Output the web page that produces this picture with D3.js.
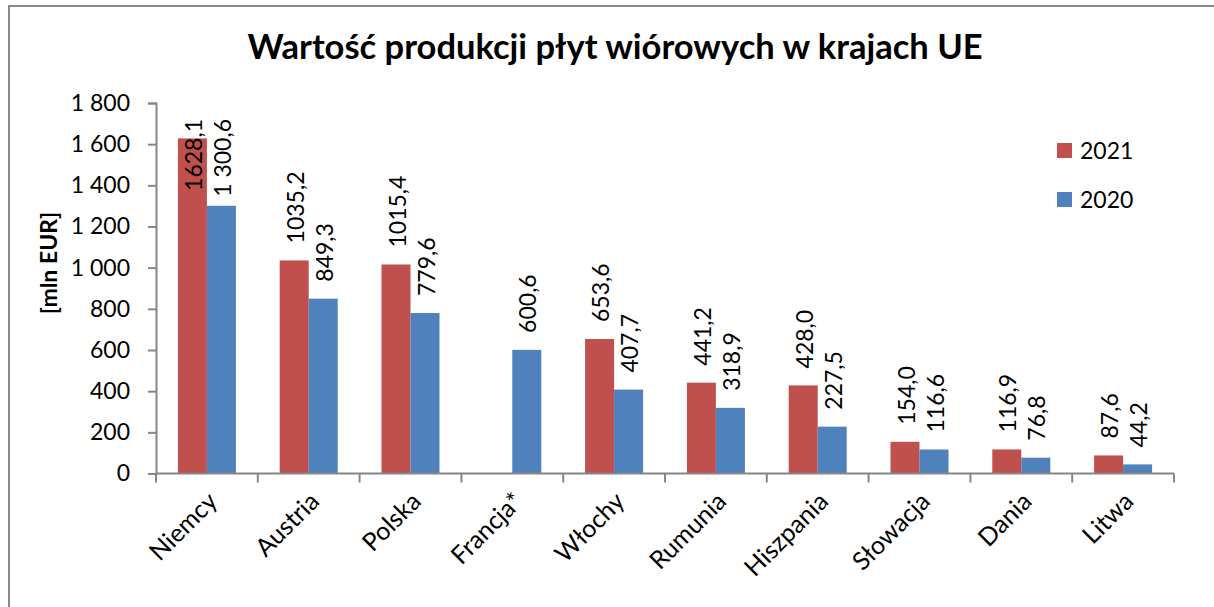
<!DOCTYPE html>
<html><head><meta charset="utf-8">
<script src="https://cdn.jsdelivr.net/npm/d3@7"></script>
<style>html,body{margin:0;background:#fff;overflow:hidden}svg{display:block}</style>
</head><body>
<svg id="chart" width="1214" height="607"></svg>
<script>
const categories = ["Niemcy","Austria","Polska","Francja*","Włochy","Rumunia","Hiszpania","Słowacja","Dania","Litwa"];
const series = ["2021","2020"];
const values2021 = [1628.1,1035.2,1015.4,null,653.6,441.2,428.0,154.0,116.9,87.6];
const values2020 = [1300.6,849.3,779.6,600.6,407.7,318.9,227.5,116.6,76.8,44.2];
const labels2021 = ["1628,1","1035,2","1015,4",null,"653,6","441,2","428,0","154,0","116,9","87,6"];
const labels2020 = ["1 300,6","849,3","779,6","600,6","407,7","318,9","227,5","116,6","76,8","44,2"];
const yTicks = [0,200,400,600,800,1000,1200,1400,1600,1800];
const yTickLabels = ["0","200","400","600","800","1 000","1 200","1 400","1 600","1 800"];
const colors = {"2021":"#C0504D","2020":"#4F81BD"};
const title = "Wartość produkcji płyt wiórowych w krajach UE";
const yTitle = "[mln EUR]";

const font = "Lato, 'Open Sans', sans-serif";
const svg = d3.select("#chart");
svg.append("path").attr("d","M9,607V6H1214").attr("fill","none")
  .attr("stroke","#8a8a8a").attr("stroke-width",2);

const x0 = d3.scaleBand().domain(categories).range([156,1174]);
const x1 = d3.scaleBand().domain(series).range([0,x0.bandwidth()]).paddingOuter(0.755);
const y = d3.scaleLinear().domain([0,1800]).range([473.5,103]);

const axisColor = "#868686";
// y axis
const yAxis = svg.append("g").attr("transform","translate(156,0)")
  .call(d3.axisLeft(y).tickValues(yTicks).tickFormat((d,i)=>yTickLabels[i]).tickSizeOuter(0).tickSize(8).tickPadding(18));
yAxis.select(".domain").attr("stroke",axisColor).attr("stroke-width",2);
yAxis.selectAll(".tick line").attr("stroke",axisColor).attr("stroke-width",2);
yAxis.selectAll(".tick text").attr("font-family",font).attr("font-size",23).attr("fill","#000");

// bars
const data = categories.map((c,i)=>({c, v:[{s:"2021",v:values2021[i],l:labels2021[i]},{s:"2020",v:values2020[i],l:labels2020[i]}]}));
const g = svg.append("g");
const grp = g.selectAll("g.cat").data(data).join("g").attr("transform",d=>`translate(${x0(d.c)},0)`);
grp.selectAll("rect").data(d=>d.v.filter(e=>e.v!=null)).join("rect")
  .attr("x",e=>x1(e.s)).attr("width",x1.bandwidth())
  .attr("y",e=>y(e.v)).attr("height",e=>y(0)-y(e.v)).attr("fill",e=>colors[e.s]);

// labels
grp.selectAll("text.lbl").data(d=>d.v.filter(e=>e.v!=null)).join("text").attr("class","lbl")
  .attr("font-family",font).attr("font-size",23).attr("fill","#000")
  .text(e=>e.l)
  .each(function(e){
    const len = this.getComputedTextLength();
    let bottom = y(e.v)-17;
    if (bottom-len < 119) bottom = 119+len;
    const cx = x1(e.s)+x1.bandwidth()/2;
    d3.select(this).attr("transform",`translate(${cx},${bottom}) rotate(-90)`).attr("dy","0.42em");
  });

// x axis
const xAxisY = 473.5;
svg.append("line").attr("x1",156).attr("x2",1174).attr("y1",xAxisY).attr("y2",xAxisY)
  .attr("stroke",axisColor).attr("stroke-width",2);
const bounds = categories.map(c=>x0(c)).concat([x0.range()[1]]);
svg.selectAll("line.xt").data(bounds).join("line").attr("class","xt")
  .attr("x1",d=>d).attr("x2",d=>d).attr("y1",xAxisY).attr("y2",xAxisY+9)
  .attr("stroke",axisColor).attr("stroke-width",2);
svg.selectAll("text.xl").data(categories).join("text").attr("class","xl")
  .attr("font-family",font).attr("font-size",25).attr("fill","#000")
  .attr("text-anchor","end")
  .attr("transform",c=>`translate(${x0(c)+x0.bandwidth()/2+12},${503}) rotate(-45)`)
  .text(c=>c);

// title
svg.append("text").attr("x",615).attr("y",59).attr("text-anchor","middle")
  .attr("font-family",font).attr("font-weight","bold").attr("font-size",34.5).attr("fill","#000").text(title);
svg.append("text").attr("transform","translate(57,263) rotate(-90)").attr("text-anchor","middle")
  .attr("font-family",font).attr("font-weight","bold").attr("font-size",23).attr("fill","#000").text(yTitle);

// legend
const leg = svg.selectAll("g.leg").data(series).join("g").attr("class","leg")
  .attr("transform",(s,i)=>`translate(1057,${143+i*49})`);
leg.append("rect").attr("width",15).attr("height",15).attr("fill",s=>colors[s]);
leg.append("text").attr("x",23).attr("y",7.5).attr("dy","0.36em")
  .attr("font-family",font).attr("font-size",23).attr("fill","#000").text(s=>s);
</script>
</body></html>
